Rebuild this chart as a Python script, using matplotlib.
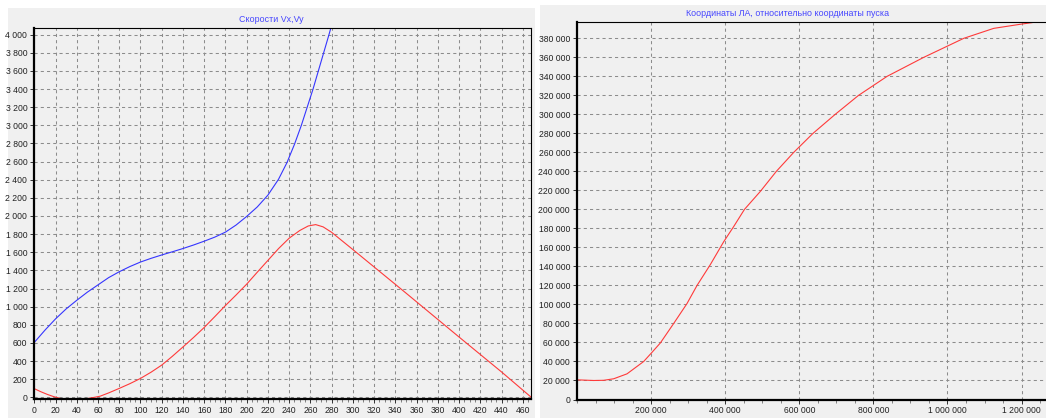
import matplotlib
matplotlib.use('Agg')
import matplotlib.pyplot as plt
from matplotlib.patches import Rectangle
from matplotlib.ticker import MultipleLocator, FuncFormatter

# --- данные: скорости Vx, Vy по времени ---
t_vx = [0, 10, 20, 30, 40, 50, 60, 70, 80, 90, 100, 110, 120, 130, 140, 150, 160, 170,
        180, 190, 200, 210, 220, 230, 238, 245, 251.5, 257, 262.5, 267.5, 272.5, 277.5,
        283]
vx = [605, 740, 865, 975, 1070, 1160, 1240, 1320, 1385, 1442, 1492, 1533, 1570, 1605,
      1641, 1680, 1722, 1767, 1822, 1900, 1995, 2100, 2230, 2405, 2590, 2790, 3000, 3200,
      3400, 3600, 3800, 4000, 4230]

t_vy = [0, 6, 12, 18, 24, 30, 37, 44, 51, 56, 62, 70, 80, 90, 100, 110, 120, 130, 140,
        150, 160, 170, 180, 190, 200, 210, 220, 230, 240, 250, 258, 265, 272, 280, 300,
        350, 400, 440, 468]
vy = [95, 62, 33, 8, -11, -32, -45, -38, -12, -2, 12, 48, 98, 150, 208, 277, 355, 452,
      555, 660, 770, 890, 1012, 1128, 1248, 1380, 1510, 1640, 1755, 1840, 1890, 1905,
      1880, 1820, 1630, 1150, 665, 280, 0]

# --- данные: координаты ЛА ---
px = [0, 45000, 72000, 99000, 135000, 180000, 201000, 225000, 261000, 297000, 324000,
      360000, 396000, 423000, 452000, 495000, 538000, 585000, 637000, 697000, 760000,
      837000, 936000, 1044000, 1125000, 1200000, 1228000]
py = [20700, 20000, 20200, 21800, 27000, 40000, 49000, 59500, 80000, 101000, 120000,
      142000, 166000, 182000, 200000, 219000, 240000, 260000, 280000, 300000, 320000,
      340000, 360000, 380000, 390500, 395000, 396500]

W, H = 1046, 418
plt.rcParams['font.family'] = ['Liberation Sans', 'DejaVu Sans']
plt.rcParams['font.size'] = 6.2

fig = plt.figure(figsize=(W / 100, H / 100), dpi=100, facecolor='white')

bg = '#f0f0f0'
title_col = '#4646ff'
fig.patches.append(Rectangle((8 / W, 0), 527 / W, 410 / H, transform=fig.transFigure,
                             facecolor=bg, edgecolor='none', zorder=-10))
fig.patches.append(Rectangle((540 / W, 0), 506 / W, 413 / H, transform=fig.transFigure,
                             facecolor=bg, edgecolor='none', zorder=-10))


def ax_at(x0, y0, x1, y1):
    return fig.add_axes([x0 / W, 1 - y1 / H, (x1 - x0) / W, (y1 - y0) / H])


def spaced(v, pos):
    return f'{int(round(v)):,}'.replace(',', ' ')


def style(ax):
    ax.set_facecolor(bg)
    ax.grid(True, which='major', color='#8c8c8c', linestyle=(0, (3, 3)), linewidth=0.75)
    for s in ['left', 'bottom']:
        ax.spines[s].set_linewidth(1.6)
    for s in ['top', 'right']:
        ax.spines[s].set_linewidth(0.8)
    ax.tick_params(which='major', length=3, width=0.7, pad=2, colors='#333333',
                   labelcolor='#222222')
    ax.tick_params(axis='y', which='minor', length=0)
    ax.tick_params(axis='x', which='minor', length=1.8, width=0.5, colors='#555555')
    ax.yaxis.set_major_formatter(FuncFormatter(spaced))
    ax.xaxis.set_major_formatter(FuncFormatter(spaced))


# левый график
ax1 = ax_at(34.3, 28, 530.7, 399)
style(ax1)
ax1.plot(t_vx, vx, color='#3535ff', linewidth=0.8)
ax1.plot(t_vy, vy, color='#ff3a3a', linewidth=0.8)
ax1.set_xlim(0, 467.5)
ax1.set_ylim(-19, 4074)
ax1.xaxis.set_major_locator(MultipleLocator(20))
ax1.xaxis.set_minor_locator(MultipleLocator(5))
ax1.yaxis.set_major_locator(MultipleLocator(200))
fig.text(271 / W, 1 - 19 / H, 'Скорости Vx,Vy', color=title_col, ha='center', va='center',
         fontsize=6.4)

# правый график
ax2 = ax_at(577, 21.7, 1046, 399.5)
style(ax2)
ax2.spines['right'].set_visible(False)
ax2.plot(px, py, color='#ff3a3a', linewidth=0.8)
ax2.set_xlim(0, 1266000)
ax2.set_ylim(0, 397500)
ax2.xaxis.set_minor_locator(MultipleLocator(50000))
ax2.yaxis.set_major_locator(MultipleLocator(20000))
ax2.set_xticks([200000, 400000, 600000, 800000, 1000000, 1200000])
fig.text(788 / W, 1 - 13.3 / H, 'Координаты ЛА, относительно координаты пуска',
         color=title_col, ha='center', va='center', fontsize=6.4)

fig.savefig('out.png', dpi=100, facecolor='white')
